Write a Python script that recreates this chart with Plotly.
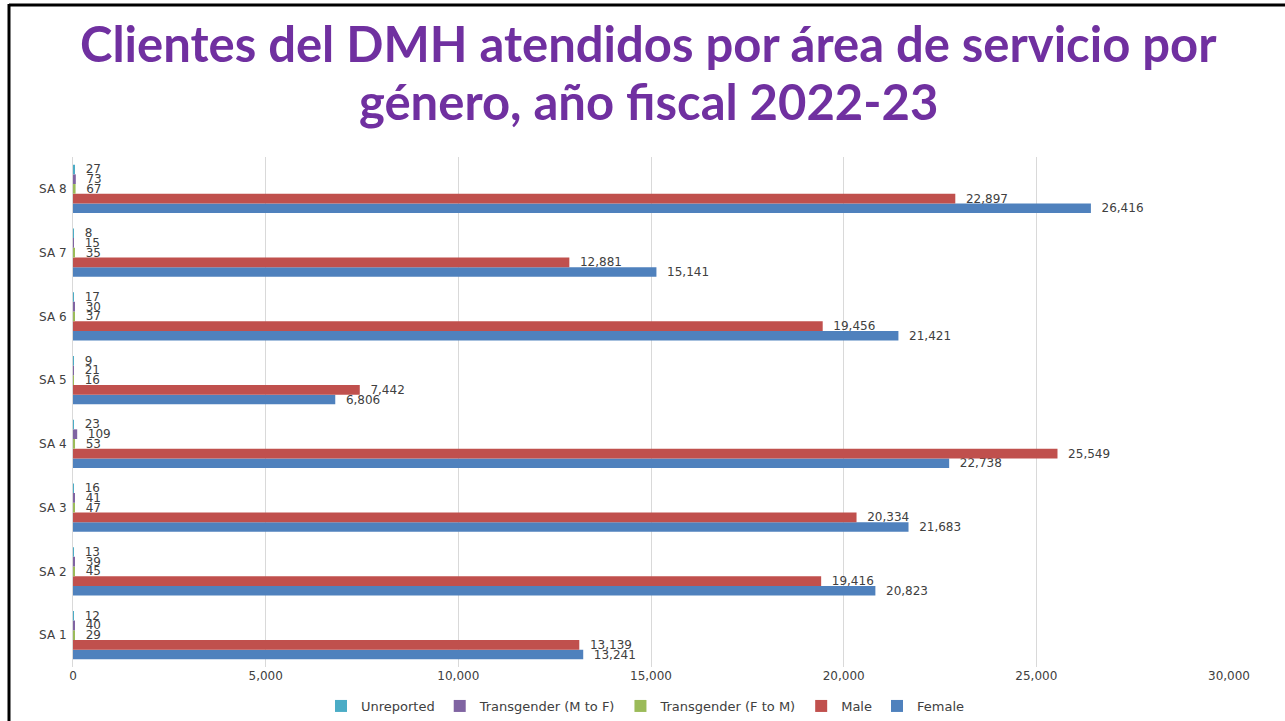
import plotly.graph_objects as go

areas = ["SA 1", "SA 2", "SA 3", "SA 4", "SA 5", "SA 6", "SA 7", "SA 8"]
female = [13241, 20823, 21683, 22738, 6806, 21421, 15141, 26416]
male = [13139, 19416, 20334, 25549, 7442, 19456, 12881, 22897]
trans_f_to_m = [29, 45, 47, 53, 16, 37, 35, 67]
trans_m_to_f = [40, 39, 41, 109, 21, 30, 15, 73]
unreported = [12, 13, 16, 23, 9, 17, 8, 27]

title_line1 = "Clientes del DMH atendidos por área de servicio por"
title_line2 = "género, año fiscal 2022-23"

series = [
    ("Female", female, "#4F81BD"),
    ("Male", male, "#C0504D"),
    ("Transgender (F to M)", trans_f_to_m, "#9BBB59"),
    ("Transgender (M to F)", trans_m_to_f, "#8064A2"),
    ("Unreported", unreported, "#4BACC6"),
]

FONT = "DejaVu Sans"
TXT = "#404040"

fig = go.Figure()
for name, vals, color in series:
    fig.add_trace(go.Bar(
        y=areas, x=vals, name=name, orientation="h",
        marker=dict(color=color, line=dict(width=0)),
        text=vals, texttemplate="\u00a0\u00a0%{x:,}", textposition="outside",
        textfont=dict(family=FONT, size=12, color=TXT),
        cliponaxis=False, constraintext="none",
    ))

W, H = 1285, 721
L, R, T, B = 73, 56, 157, 54
pw = W - L - R
ph = H - T - B

def px(x):
    return (x - L) / pw

def py(y):
    return (H - B - y) / ph

fig.update_layout(
    width=W, height=H,
    margin=dict(l=L, r=R, t=T, b=B, autoexpand=False),
    paper_bgcolor="white", plot_bgcolor="white",
    barmode="group", bargap=0.24, bargroupgap=0,
    showlegend=True,
    legend=dict(orientation="h", traceorder="reversed", x=px(645), xanchor="center",
                y=py(706), yanchor="middle",
                font=dict(family=FONT, size=13, color=TXT),
                itemwidth=30),
    xaxis=dict(range=[0, 30000], dtick=5000, tickformat=",", showgrid=True,
               gridcolor="#D9D9D9", gridwidth=1, zeroline=False,
               tickfont=dict(family=FONT, size=12, color=TXT),
               ticks="", showline=False, fixedrange=True),
    yaxis=dict(showgrid=False, zeroline=False, showline=True, linecolor="#D9D9D9",
               linewidth=1, ticks="", ticklabelstandoff=3, fixedrange=True,
               tickfont=dict(family=FONT, size=12, color=TXT)),
    annotations=[
        dict(text=title_line1, xref="paper", yref="paper", x=px(648), y=py(43),
             xanchor="center", yanchor="middle", showarrow=False,
             font=dict(family="Lato", size=49, color="#7030A0", weight="bold")),
        dict(text=title_line2, xref="paper", yref="paper", x=px(648), y=py(101),
             xanchor="center", yanchor="middle", showarrow=False,
             font=dict(family="Lato", size=49, color="#7030A0", weight="bold")),
    ],
    shapes=[
        dict(type="line", xref="paper", yref="paper", x0=px(9), x1=px(1290),
             y0=py(5), y1=py(5), line=dict(color="black", width=3)),
        dict(type="line", xref="paper", yref="paper", x0=px(9), x1=px(9),
             y0=py(4), y1=py(725), line=dict(color="black", width=3)),
    ],
)

fig.write_html("out.html", config={"displayModeBar": False},
               post_script="document.body.style.margin='0';document.body.style.overflow='hidden';")
